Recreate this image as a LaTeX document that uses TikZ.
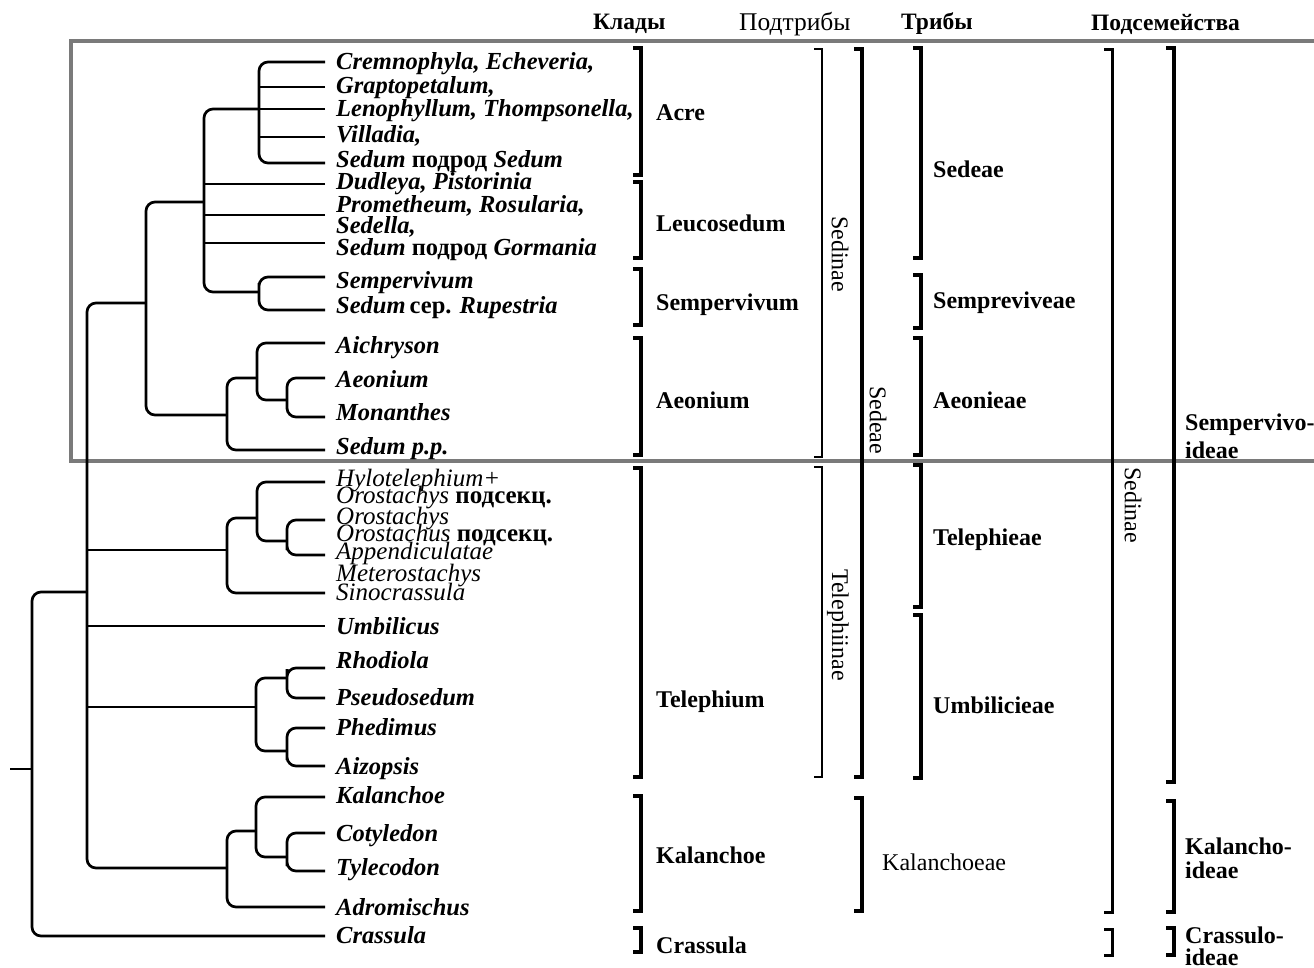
\documentclass[tikz,border=0pt]{standalone}
\usepackage{fontspec}
\setmainfont{Liberation Serif}
\begin{document}
\begin{tikzpicture}[x=1pt,y=-1pt,
  tree/.style={line width=2.7pt, rounded corners=9pt},
  taxon/.style={anchor=base west, inner sep=0pt, font=\fontsize{24.5}{24.5}\selectfont\bfseries\itshape},
  taxonl/.style={anchor=base west, inner sep=0pt, font=\fontsize{25}{25}\selectfont\itshape},
  grp/.style={anchor=west, inner sep=0pt, font=\fontsize{24}{24}\selectfont\bfseries},
  grpr/.style={anchor=west, inner sep=0pt, font=\fontsize{24}{24}\selectfont},
  vlab/.style={rotate=-90, inner sep=0pt, font=\fontsize{24}{24}\selectfont},
  hdr/.style={anchor=west, inner sep=0pt, font=\fontsize{23.5}{23.5}\selectfont\bfseries},
  hdrr/.style={anchor=west, inner sep=0pt, font=\fontsize{25.5}{25.5}\selectfont},
  frame/.style={line width=4pt, draw=black!52},
]
\useasboundingbox (0,0) rectangle (1314,967);

% frame around the Sempervivoideae part
\draw[frame] (71,41) rectangle (1340,461);

% ---------- tips ----------
\coordinate (tA1) at (325,62);
\coordinate (tA2) at (325,87);
\coordinate (tA3) at (325,109);
\coordinate (tA4) at (325,137);
\coordinate (tA5) at (325,163);
\coordinate (tL1) at (325,184);
\coordinate (tL2) at (325,215);
\coordinate (tL3) at (325,243);
\coordinate (tS1) at (325,277);
\coordinate (tS2) at (325,310);
\coordinate (tAe1) at (325,343);
\coordinate (tAe2) at (325,378);
\coordinate (tAe3) at (325,417);
\coordinate (tAe4) at (325,450);
\coordinate (tT1) at (325,482);
\coordinate (tT2) at (325,520);
\coordinate (tT3) at (325,555);
\coordinate (tT4) at (325,593);
\coordinate (tU) at (325,626);
\coordinate (tR1) at (325,668);
\coordinate (tR2) at (325,698);
\coordinate (tR3) at (325,728);
\coordinate (tR4) at (325,766);
\coordinate (tK1) at (325,797);
\coordinate (tK2) at (325,833);
\coordinate (tK3) at (325,871);
\coordinate (tK4) at (325,907);
\coordinate (tCr) at (325,936);

% ---------- internal nodes ----------
\coordinate (nAcre) at (259,109);
\coordinate (nSemp) at (259,292);
\coordinate (nA) at (204,202);
\coordinate (nAe2) at (287,400);
\coordinate (nAe1) at (257,378);
\coordinate (nAe0) at (227,415);
\coordinate (nB) at (146,303);
\coordinate (nT2) at (287,541);
\coordinate (nT1) at (257,518);
\coordinate (nT0) at (227,550);
\coordinate (nR1) at (287,678);
\coordinate (nR2) at (287,751);
\coordinate (nR0) at (256,707);
\coordinate (nK2) at (287,857);
\coordinate (nK1) at (256,831);
\coordinate (nK0) at (227,868);
\coordinate (nC) at (87,592);
\coordinate (nRoot) at (32,769);
\coordinate (stem) at (10,769);

% ---------- tree ----------
\draw[tree] (tA1) -| (nAcre) |- (tA5);
\draw[tree] (tA2) -- (nAcre |- tA2);
\draw[tree] (tA4) -- (nAcre |- tA4);
\draw[tree] (tA3) -- (nAcre);
\draw[tree] (nAcre) -| (nA) |- (nSemp);
\draw[tree] (tS1) -| (nSemp) |- (tS2);
\draw[tree] (tL1) -- (nA |- tL1);
\draw[tree] (tL2) -- (nA |- tL2);
\draw[tree] (tL3) -- (nA |- tL3);
\draw[tree] (nA) -| (nB) |- (nAe0);
\draw[tree] (nAe1) -| (nAe0) |- (tAe4);
\draw[tree] (tAe1) -| (nAe1) |- (nAe2);
\draw[tree] (tAe2) -| (nAe2) |- (tAe3);
\draw[tree] (nB) -| (nC) |- (nK0);
\draw[tree] (nC |- nT0) -- (nT0);
\draw[tree] (nC |- tU) -- (tU);
\draw[tree] (nC |- nR0) -- (nR0);
\draw[tree] (nC) -| (nRoot) |- (tCr);
\draw[tree] (stem) -- (nRoot);
\draw[tree] (nT1) -| (nT0) |- (tT4);
\draw[tree] (tT1) -| (nT1) |- (nT2);
\draw[tree] (tT2) -| (nT2) |- (tT3);
\draw[tree] (nR1) -| (nR0) |- (nR2);
\draw[tree] (tR1) -| (nR1) |- (tR2);
\draw[tree] (tR3) -| (nR2) |- (tR4);
\draw[tree] (nK1) -| (nK0) |- (tK4);
\draw[tree] (tK1) -| (nK1) |- (nK2);
\draw[tree] (tK2) -| (nK2) |- (tK3);

% ---------- taxon names ----------
\node[taxon] (xA1) at (336,69) {Cremnophyla, Echeveria,};
\node[taxon] (xA2) at (336,93) {Graptopetalum,};
\node[taxon] (xA3) at (336,116) {Lenophyllum, Thompsonella,};
\node[taxon] (xA4) at (336,142) {Villadia,};
\node[taxon] (xA5) at (336,167) {Sedum {\upshape подрод} Sedum};
\node[taxon] (xL1) at (336,189) {Dudleya, Pistorinia};
\node[taxon] (xL2) at (336,212) {Prometheum, Rosularia,};
\node[taxon] (xL3) at (336,233) {Sedella,};
\node[taxon] (xL4) at (336,255) {Sedum {\upshape подрод} Gormania};
\node[taxon] (xS1) at (336,288) {Sempervivum};
\node[taxon] (xS2) at (336,313) {Sedum\,{\upshape сер.} Rupestria};
\node[taxon] (xAe1) at (336,353) {Aichryson};
\node[taxon] (xAe2) at (336,387) {Aeonium};
\node[taxon] (xAe3) at (336,420) {Monanthes};
\node[taxon] (xAe4) at (336,454) {Sedum p.p.};
\node[taxonl] (xT1) at (336,486) {Hylotelephium+};
\node[taxonl] (xT2) at (336,503) {Orostachys {\bfseries\upshape подсекц.}};
\node[taxonl] (xT3) at (336,524) {Orostachys};
\node[taxonl] (xT4) at (336,541) {Orostachus {\bfseries\upshape подсекц.}};
\node[taxonl] (xT5) at (336,559) {Appendiculatae};
\node[taxonl] (xT6) at (336,581) {Meterostachys};
\node[taxonl] (xT7) at (336,600) {Sinocrassula};
\node[taxon] (xU) at (336,634) {Umbilicus};
\node[taxon] (xR1) at (336,668) {Rhodiola};
\node[taxon] (xR2) at (336,705) {Pseudosedum};
\node[taxon] (xR3) at (336,735) {Phedimus};
\node[taxon] (xR4) at (336,774) {Aizopsis};
\node[taxon] (xK1) at (336,803) {Kalanchoe};
\node[taxon] (xK2) at (336,841) {Cotyledon};
\node[taxon] (xK3) at (336,875) {Tylecodon};
\node[taxon] (xK4) at (336,915) {Adromischus};
\node[taxon] (xCr) at (336,943) {Crassula};

% ---------- column headings ----------
\node[hdr] (h1) at (593,24) {Клады};
\node[hdrr] (h2) at (739,24) {Подтрибы};
\node[hdr] (h3) at (901,24) {Трибы};
\node[hdr] (h4) at (1091,24) {Подсемейства};

% ---------- brackets ----------
% clades
\foreach \a/\b in {48/175, 182/258, 269/325, 338/455, 468/777, 796/911, 928/952}
  \draw[line width=4pt] (633,\a) -- (641,\a) -- (641,\b) -- (633,\b);
% subtribes
\foreach \a/\b in {49/457, 467/777}
  \draw[line width=2.4pt] (814,\a) -- (822,\a) -- (822,\b) -- (814,\b);
% tribes, older system
\foreach \a/\b in {49/777, 798/911}
  \draw[line width=3.6pt] (854,\a) -- (862,\a) -- (862,\b) -- (854,\b);
% tribes
\foreach \a/\b in {48/258, 275/328, 338/455, 465/607, 615/778}
  \draw[line width=4pt] (913,\a) -- (921,\a) -- (921,\b) -- (913,\b);
% subfamilies, older system
\foreach \a/\b in {49/912, 929/955}
  \draw[line width=3pt] (1104,\a) -- (1112,\a) -- (1112,\b) -- (1104,\b);
% subfamilies
\foreach \a/\b in {48/782, 801/912, 928/955}
  \draw[line width=4.5pt] (1166,\a) -- (1174,\a) -- (1174,\b) -- (1166,\b);

% ---------- group labels ----------
\node[grp] (cAcre) at (656,113) {Acre};
\node[grp] (cLeu) at (656,223) {Leucosedum};
\node[grp] (cSem) at (656,305) {Sempervivum};
\node[grp] (cAeo) at (656,400) {Aeonium};
\node[grp] (cTel) at (656,702) {Telephium};
\node[grp] (cKal) at (656,855) {Kalanchoe};
\node[grp] (cCra) at (656,945) {Crassula};

\node[vlab] (sSed) at (840,254) {Sedinae};
\node[vlab] (sTel) at (838,625) {Telephiinae};
\node[vlab] (oSed) at (878,420) {Sedeae};
\node[grpr] (oKal) at (882,862) {Kalanchoeae};

\node[grp] (tSed) at (933,169) {Sedeae};
\node[grp] (tSem) at (933,303) {Sempreviveae};
\node[grp] (tAeo) at (933,400) {Aeonieae};
\node[grp] (tTel) at (933,540) {Telephieae};
\node[grp] (tUmb) at (933,705) {Umbilicieae};

\node[vlab] (fSed) at (1133,505) {Sedinae};

\node[grp] (fSem1) at (1185,425) {Sempervivo-};
\node[grp] (fSem2) at (1185,450) {ideae};
\node[grp] (fKal1) at (1185,846) {Kalancho-};
\node[grp] (fKal2) at (1185,870) {ideae};
\node[grp] (fCra1) at (1185,935) {Crassulo-};
\node[grp] (fCra2) at (1185,957) {ideae};
\end{tikzpicture}
\end{document}
